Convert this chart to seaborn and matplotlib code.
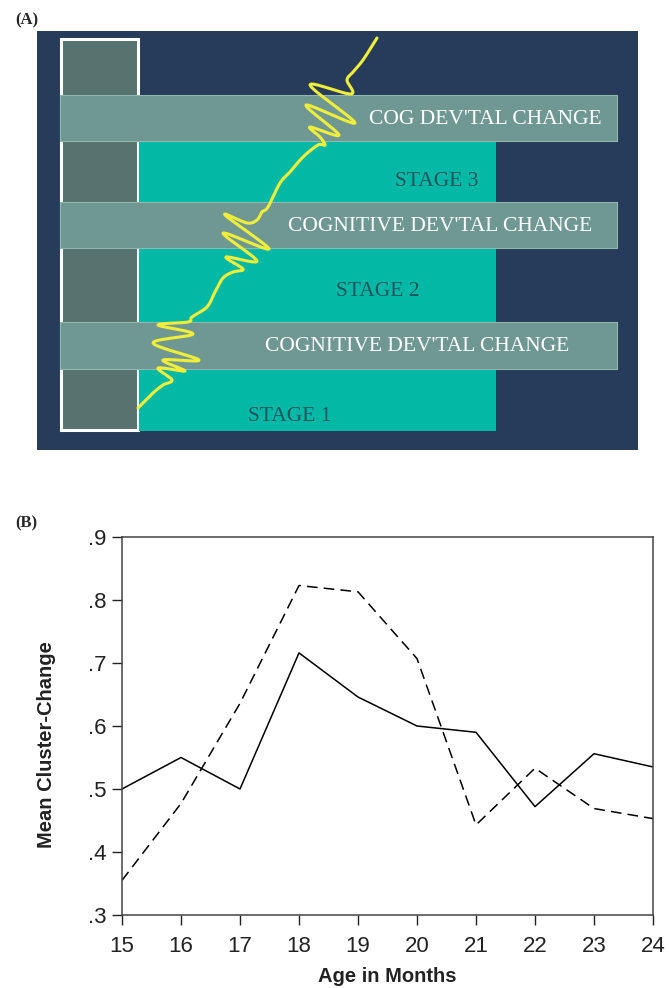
import numpy as np
import pandas as pd
import matplotlib.pyplot as plt
import matplotlib.patches as mpatches
import seaborn as sns

# ---- data ----
# panel B: mean cluster-change by age
ages = [15, 16, 17, 18, 19, 20, 21, 22, 23, 24]
solid_vals = [0.500, 0.550, 0.500, 0.716, 0.646, 0.600, 0.590, 0.472, 0.556, 0.535]
dashed_vals = [0.355, 0.477, 0.636, 0.823, 0.813, 0.707, 0.443, 0.533, 0.469, 0.453]
y_ticks = [0.3, 0.4, 0.5, 0.6, 0.7, 0.8, 0.9]
y_tick_labels = ['.3', '.4', '.5', '.6', '.7', '.8', '.9']

# panel A: schematic (pixel units of the panel)
band_labels = ["COG DEV'TAL CHANGE", "COGNITIVE DEV'TAL CHANGE", "COGNITIVE DEV'TAL CHANGE"]
band_rows = [(95, 141), (202, 248), (322, 369)]
band_text_x = [485, 440, 417]
stage_labels = ['STAGE 3', 'STAGE 2', 'STAGE 1']
stage_rows = [(141, 202), (248, 322), (369, 431)]
stage_text = [(437, 181), (378, 291), (290, 416)]
squiggle = [(138, 408), (153, 393), (163, 385), (172, 380), (158, 368), (185, 371),
            (163, 360), (199, 360), (153, 343), (193, 334), (158, 325), (188, 322),
            (192, 317), (207, 307), (215, 292), (223, 278), (233, 272), (243, 269),
            (226, 257), (257, 261), (223, 233), (269, 249), (225, 215), (247, 223),
            (257, 220), (262, 212), (268, 207), (280, 183), (290, 172), (303, 157),
            (318, 145), (325, 145), (320, 137), (310, 127), (339, 135), (306, 105),
            (355, 123), (310, 85), (351, 94), (347, 80), (353, 72), (363, 60), (377, 38)]


def catmull_rom(pts, n=12):
    # smooth curve through the given points (schematic line only)
    p = np.array(pts, dtype=float)
    p = np.vstack([p[0], p, p[-1]])
    out = []
    t = np.linspace(0, 1, n, endpoint=False)[:, None]
    for i in range(1, len(p) - 2):
        p0, p1, p2, p3 = p[i - 1], p[i], p[i + 1], p[i + 2]
        out.append(0.5 * ((2 * p1) + (-p0 + p2) * t
                          + (2 * p0 - 5 * p1 + 4 * p2 - p3) * t ** 2
                          + (-p0 + 3 * p1 - 3 * p2 + p3) * t ** 3))
    out.append(p[-2][None, :])
    return np.vstack(out)


sns.set_style("white")
plt.rcParams['font.family'] = ['Liberation Sans', 'DejaVu Sans']

fig = plt.figure(figsize=(6.69, 9.88), dpi=100)

# ---- Panel A ----
ax_a = fig.add_axes([0, 1 - 460 / 988, 1, 460 / 988])
ax_a.set_xlim(0, 669)
ax_a.set_ylim(460, 0)
ax_a.axis('off')

navy = '#273b5b'
band_col = '#6f9893'
col_dark = '#56736f'
teal = '#03b9a6'

ax_a.add_patch(mpatches.Rectangle((37, 31), 601, 419, color=navy, lw=0))
ax_a.add_patch(mpatches.Rectangle((61, 39), 77, 391, facecolor=col_dark,
                                  edgecolor='white', lw=2.2))
for top, bot in stage_rows:
    ax_a.add_patch(mpatches.Rectangle((139, top), 357, bot - top, color=teal, lw=0))
for top, bot in band_rows:
    ax_a.add_patch(mpatches.Rectangle((60, top), 557, bot - top, facecolor=band_col,
                                      edgecolor='#93b5b0', lw=0.8))

for lab, (top, bot), tx in zip(band_labels, band_rows, band_text_x):
    ax_a.text(tx, (top + bot) / 2 + 1, lab, color='white', fontsize=15.5,
              family='Liberation Serif', ha='center', va='center')
for lab, (tx, ty) in zip(stage_labels, stage_text):
    ax_a.text(tx, ty, lab, color='#1d5560', fontsize=15.5,
              family='Liberation Serif', ha='center', va='center')

curve = catmull_rom(squiggle)
ax_a.plot(curve[:, 0], curve[:, 1], color='#f0ee3a', lw=2.2,
          solid_joinstyle='round', solid_capstyle='round')

fig.text(15 / 669, 1 - 20 / 988, '(A)', fontsize=12, family='Liberation Serif',
         fontweight='bold', va='center')

# ---- Panel B ----
ax_b = fig.add_axes([122 / 669, 1 - 915 / 988, (653 - 122) / 669, (915 - 537) / 988])
df = pd.DataFrame({'age': ages + ages,
                   'value': solid_vals + dashed_vals,
                   'series': ['solid'] * len(ages) + ['dashed'] * len(ages)})
sns.lineplot(data=df[df.series == 'solid'], x='age', y='value', color='black',
             lw=1.1, ax=ax_b)
sns.lineplot(data=df[df.series == 'dashed'], x='age', y='value', color='black',
             lw=1.1, linestyle=(0, (7, 4)), ax=ax_b)

ax_b.set_xlim(15, 24)
ax_b.set_ylim(0.3, 0.9)
ax_b.set_xticks(ages)
ax_b.set_yticks(y_ticks)
ax_b.set_yticklabels(y_tick_labels)
ax_b.tick_params(direction='out', length=7, width=1, colors='#222222',
                 labelsize=16, bottom=True, left=True)
ax_b.tick_params(axis='x', pad=8)
ax_b.tick_params(axis='y', pad=4)
for s in ax_b.spines.values():
    s.set_color('#444444')
    s.set_linewidth(1.1)
ax_b.set_xlabel('Age in Months', fontsize=14.5, fontweight='bold',
                color='#222222', labelpad=7)
ax_b.set_ylabel('Mean Cluster-Change', fontsize=14.5, fontweight='bold',
                color='#222222')
ax_b.yaxis.set_label_coords(-0.125, 0.45)

fig.text(15 / 669, 1 - 523 / 988, '(B)', fontsize=12, family='Liberation Serif',
         fontweight='bold', va='center')

fig.savefig('out.png', dpi=100)
